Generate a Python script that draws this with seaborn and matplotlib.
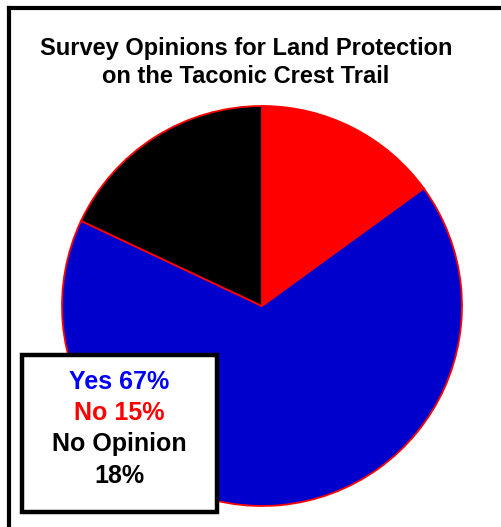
import matplotlib
matplotlib.use("Agg")
import matplotlib.pyplot as plt
import seaborn as sns
from matplotlib.patches import Rectangle
from matplotlib.lines import Line2D

# data
labels = ['No', 'Yes', 'No Opinion']
values = [15, 67, 18]
slice_colors = ['#FF0000', '#0000CC', '#000000']
text_colors = ['#FF0000', '#0000FF', '#000000']

sns.set_style('white')
plt.rcParams['font.family'] = ['Liberation Sans', 'DejaVu Sans']
plt.rcParams['text.color'] = 'black'

W, H = 501, 527
fig = plt.figure(figsize=(W / 100, H / 100), dpi=100)

# frame (only top and left edges are visible in the crop)
fig.add_artist(Line2D([8.5 / W, 1], [1 - 7.5 / H, 1 - 7.5 / H], color='black', lw=3,
                      solid_capstyle='projecting', transform=fig.transFigure))
fig.add_artist(Line2D([8.5 / W, 8.5 / W], [0, 1 - 7.5 / H], color='black', lw=3,
                      solid_capstyle='projecting', transform=fig.transFigure))

# pie: centre (262, 306) px, radius 200 px
ax = fig.add_axes([62 / W, (H - 506) / H, 400 / W, 400 / H])
wedges, _ = ax.pie(values, colors=slice_colors, startangle=90, counterclock=False,
                   wedgeprops=dict(edgecolor='#FF0000', linewidth=1.3))
for w in wedges:
    w.set_clip_on(False)
ax.set_xlim(-1, 1)
ax.set_ylim(-1, 1)
ax.axis('off')

fig.text(246 / W, 1 - 48 / H, 'Survey Opinions for Land Protection', ha='center', va='center',
         fontsize=17, fontweight='bold', color='black')
fig.text(246 / W, 1 - 76 / H, 'on the Taconic Crest Trail', ha='center', va='center',
         fontsize=17, fontweight='bold', color='black')

# legend box
fig.add_artist(Rectangle((22 / W, (H - 512) / H), 195 / W, 157 / H, facecolor='white',
                         edgecolor='black', lw=3.2, transform=fig.transFigure, zorder=5))
legend_lines = [
    (f'{labels[1]} {values[1]}%', text_colors[1], 382),
    (f'{labels[0]} {values[0]}%', text_colors[0], 413),
    (labels[2], text_colors[2], 444),
    (f'{values[2]}%', text_colors[2], 476),
]
for txt, col, y in legend_lines:
    fig.text(119 / W, 1 - y / H, txt, ha='center', va='center', color=col,
             fontsize=18, fontweight='bold', zorder=6)

fig.savefig('out.png', dpi=100)
